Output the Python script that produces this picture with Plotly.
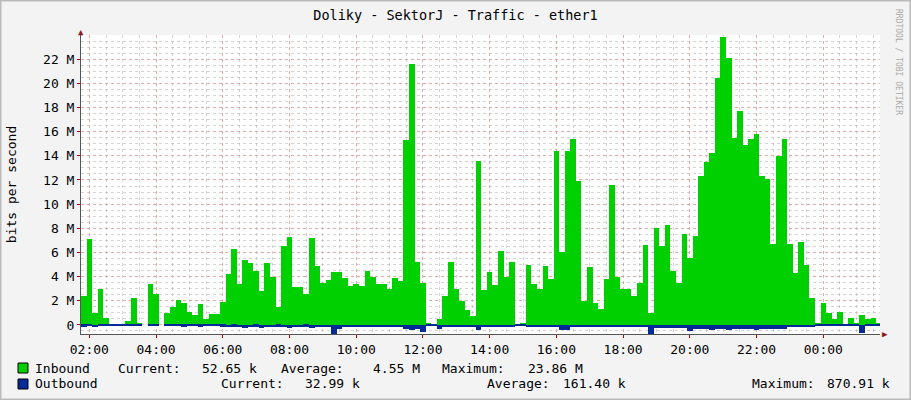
import plotly.graph_objects as go

# 10-minute bins starting at 01:45 (values in Mbit/s)
start_hour = 1.75
bin_hours = 1 / 6
inbound = [
    2.4, 7.1, 1.0, 3.0, 0.6, 0.05, 0.05, 0.05, 0.3, 2.2,
    0.2, None, 3.4, 2.6, None, 1.0, 1.5, 2.1, 1.8, 1.1,
    0.8, 1.7, 0.5, 0.9, 0.9, 1.9, 4.2, 6.3, 3.4, 5.4,
    5.1, 4.5, 2.8, 5.1, 4.0, 1.5, 6.5, 7.3, 3.1, 3.1,
    2.6, 7.2, 4.9, 3.5, 3.7, 4.4, 4.4, 3.9, 3.2, 3.4,
    3.2, 4.5, 4.0, 3.4, 3.4, 3.0, 3.9, 3.6, 15.3, 21.6,
    5.2, 3.5, 0.1, 0.05, 0.5, 2.4, 5.2, 3.0, 2.0, 1.2,
    0.75, 13.6, 2.9, 4.4, 3.3, 6.1, 4.0, 5.2, 0.05, 0.2,
    5.0, 3.4, 3.0, 4.9, 3.8, 14.4, 6.0, 14.4, 15.4, 11.9,
    2.0, 4.8, 1.8, 1.3, 3.8, 11.6, 4.0, 3.0, 3.0, 2.4,
    3.5, 6.6, 1.0, 8.0, 6.5, 8.3, 4.5, 3.5, 7.5, 5.5,
    7.4, 12.3, 13.5, 14.2, 20.4, 23.86, 22.1, 15.5, 17.7, 14.9,
    15.4, 15.8, 12.3, 12.1, 6.7, 14.0, 15.4, 6.7, 4.3, 6.9,
    5.0, 2.2, 0.2, 1.8, 1.0, 0.5, 1.1, 0.05, 0.6, 0.2,
    0.8, 0.5, 0.6, 0.1,
]
outbound = [
    0.15, 0.1, 0.2, 0.1, 0.05, 0.02, 0.02, 0.02, 0.05, 0.1,
    0.05, None, 0.1, 0.1, None, 0.05, 0.1, 0.1, 0.15, 0.1,
    0.1, 0.15, 0.05, 0.1, 0.1, 0.15, 0.2, 0.15, 0.2, 0.25,
    0.2, 0.15, 0.25, 0.2, 0.2, 0.15, 0.2, 0.25, 0.2, 0.2,
    0.15, 0.25, 0.2, 0.2, 0.2, 0.8, 0.3, 0.2, 0.2, 0.2,
    0.2, 0.2, 0.2, 0.2, 0.2, 0.2, 0.2, 0.2, 0.35, 0.45,
    0.3, 0.6, 0.05, 0.02, 0.3, 0.2, 0.2, 0.2, 0.2, 0.2,
    0.2, 0.4, 0.2, 0.2, 0.2, 0.2, 0.2, 0.2, 0.02, 0.02,
    0.2, 0.2, 0.2, 0.2, 0.2, 0.2, 0.45, 0.45, 0.2, 0.2,
    0.2, 0.2, 0.2, 0.2, 0.2, 0.2, 0.2, 0.2, 0.2, 0.2,
    0.2, 0.2, 0.9, 0.25, 0.25, 0.25, 0.25, 0.25, 0.25, 0.5,
    0.35, 0.35, 0.35, 0.4, 0.35, 0.35, 0.4, 0.35, 0.35, 0.3,
    0.35, 0.4, 0.35, 0.35, 0.3, 0.35, 0.35, 0.2, 0.2, 0.2,
    0.2, 0.2, 0.05, 0.1, 0.1, 0.1, 0.1, 0.1, 0.1, 0.1,
    0.7, 0.1, 0.1, 0.1,
]
x_ticks = [2, 4, 6, 8, 10, 12, 14, 16, 18, 20, 22, 24]
x_labels = ["02:00", "04:00", "06:00", "08:00", "10:00", "12:00", "14:00",
            "16:00", "18:00", "20:00", "22:00", "00:00"]
y_ticks = [0, 2, 4, 6, 8, 10, 12, 14, 16, 18, 20, 22]
y_labels = ["0"] + [f"{v} M" for v in y_ticks[1:]]

xs = [start_hour + i * bin_hours for i in range(len(inbound))]
neg_out = [None if v is None else -v for v in outbound]

FONT = "DejaVu Sans Mono"
IN_C = "#00CF00"
OUT_C = "#002A97"

fig = go.Figure()
fig.add_bar(x=xs, y=inbound, width=bin_hours, offset=0, marker=dict(color=IN_C, line_width=0), name="Inbound")
fig.add_bar(x=xs, y=neg_out, width=bin_hours, offset=0, marker=dict(color=OUT_C, line_width=0), name="Outbound")

grid_red = "rgba(235,130,130,0.5)"
grid_gray = "rgba(170,170,170,0.5)"
fig.update_layout(
    width=911, height=400,
    margin=dict(l=81, r=31, t=35, b=66, autoexpand=False),
    paper_bgcolor="#F3F3F3", plot_bgcolor="#FFFFFF",
    barmode="overlay", bargap=0, showlegend=False,
    font=dict(family=FONT, size=13, color="#000"),
    title=dict(text="Doliky - SektorJ - Traffic - ether1", x=0.5, xanchor="center",
               y=1 - 15 / 400, yanchor="middle", font=dict(family=FONT, size=13.5)),
    xaxis=dict(range=[start_hour, start_hour + 23.95], tickvals=x_ticks, ticktext=x_labels,
               automargin=False,
               showgrid=True, gridcolor=grid_red, griddash="dot", gridwidth=1,
               minor=dict(dtick=0.5, tick0=0, showgrid=True, gridcolor=grid_gray, griddash="dot"),
               showline=True, linecolor="#555", zeroline=False, ticks="outside",
               ticklen=3, tickcolor="#c00", tickfont=dict(family=FONT, size=13)),
    yaxis=dict(range=[-0.75, 24], tickvals=y_ticks, ticktext=y_labels, automargin=False,
               showgrid=True, gridcolor=grid_red, griddash="dot",
               minor=dict(dtick=0.5, tick0=0, showgrid=True, gridcolor=grid_gray, griddash="dot"),
               showline=True, linecolor="#555", zeroline=False, ticks="outside", ticklen=3,
               tickcolor="#c00",
               title=dict(text="bits per second", font=dict(family=FONT, size=13), standoff=23),
               tickfont=dict(family=FONT, size=13)),
)

# outer frame
fig.add_shape(type="rect", xref="paper", yref="paper", x0=-81/799, x1=1+31/799, y0=-66/299, y1=1+35/299,
              line=dict(color="#BBBBBB", width=3), fillcolor="rgba(0,0,0,0)", layer="below")

# axis arrows
fig.add_annotation(xref="paper", yref="paper", x=1.006, y=0, text="▶", showarrow=False,
                   font=dict(size=9, color="#8B1A1A"), xanchor="center", yanchor="middle")
fig.add_annotation(xref="paper", yref="paper", x=0, y=1.01, text="▲", showarrow=False,
                   font=dict(size=9, color="#8B1A1A"), xanchor="center", yanchor="middle")

# watermark
fig.add_annotation(xref="paper", yref="paper", x=1 + 19/799, y=1 + 28/299, text="RRDTOOL / TOBI OETIKER",
                   textangle=90, showarrow=False, xanchor="center", yanchor="top",
                   font=dict(family=FONT, size=8, color="#AAAAAA"))

def px(xp):
    return (xp - 81) / 799

def py(yp):
    return (334 - yp) / 299

def txt(xp, yp, s, anchor="left"):
    fig.add_annotation(xref="paper", yref="paper", x=px(xp), y=py(yp), text=s, showarrow=False,
                       xanchor=anchor, yanchor="middle", font=dict(family=FONT, size=13, color="#000"))

for yp, col in [(368, IN_C), (384, OUT_C)]:
    fig.add_shape(type="rect", xref="paper", yref="paper", x0=px(18), x1=px(28), y0=py(yp + 5), y1=py(yp - 5),
                  fillcolor=col, line=dict(color="#000", width=1))

txt(33, 368, "Inbound")
txt(116, 368, "Current:")
txt(259, 368, "52.65 k", "right")
txt(279, 368, "Average:")
txt(422, 368, "4.55 M", "right")
txt(440, 368, "Maximum:")
txt(585, 368, "23.86 M", "right")
txt(33, 384, "Outbound")
txt(219, 384, "Current:")
txt(362, 384, "32.99 k", "right")
txt(485, 384, "Average:")
txt(628, 384, "161.40 k", "right")
txt(750, 384, "Maximum:")
txt(892, 384, "870.91 k", "right")

fig.write_html("out.html", config={"displayModeBar": False},
               post_script="document.body.style.margin='0';document.body.style.overflow='hidden';")
